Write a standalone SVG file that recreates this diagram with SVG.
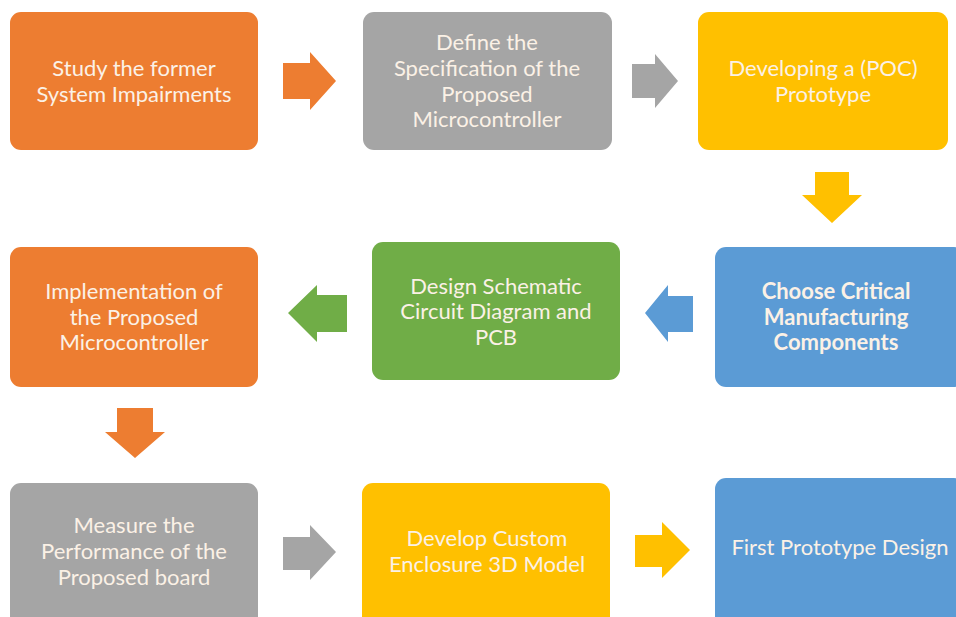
<svg xmlns="http://www.w3.org/2000/svg" width="956" height="617" viewBox="0 0 956 617">
<style>
.t{font-family:Lato,"Open Sans","Liberation Sans",sans-serif;font-size:22px;fill:#fbf1e6;text-anchor:middle}
.b{font-weight:bold}
.or{fill:#ED7D31}.gr{fill:#A5A5A5}.ye{fill:#FFC000}.bl{fill:#5B9BD5}.gn{fill:#70AD47}
</style>
<rect width="956" height="617" fill="#ffffff"/>
<g id="connectors">
<polygon class="or" points="283,63 310,63 310,52 336,81 310,110 310,99 283,99"/>
<polygon class="gr" points="632,64 655,64 655,54 678,81 655,108 655,98 632,98"/>
<polygon class="ye" points="815,172 849,172 849,195 862,195 832,223 802,195 815,195"/>
<polygon class="bl" points="693,296 668,296 668,285 645,313 668,342 668,332 693,332"/>
<polygon class="gn" points="347,295 317,295 317,285 288,313 317,342 317,332 347,332"/>
<polygon class="or" points="117,408 153,408 153,432 165,432 135,458 105,432 117,432"/>
<polygon class="gr" points="283,537 310,537 310,525 336,552 310,580 310,570 283,570"/>
<polygon class="ye" points="635,535 662,535 662,522 690,550 662,578 662,567 635,567"/>
</g>
<g id="n1"><rect class="or" x="10" y="12" width="248" height="138" rx="11"/>
<text class="t" x="134" y="76">Study the former</text><text class="t" x="134" y="102">System Impairments</text></g>
<g id="n2"><rect class="gr" x="363" y="12" width="249" height="138" rx="11"/>
<text class="t" x="487" y="50">Define the</text><text class="t" x="487" y="76">Specification of the</text><text class="t" x="487" y="102">Proposed</text><text class="t" x="487" y="127">Microcontroller</text></g>
<g id="n3"><rect class="ye" x="698" y="12" width="250" height="138" rx="11"/>
<text class="t" x="823" y="76">Developing a (POC)</text><text class="t" x="823" y="102">Prototype</text></g>
<g id="n4"><rect class="bl" x="715" y="247" width="250" height="140" rx="11"/>
<text class="t b" x="836" y="299">Choose Critical</text><text class="t b" x="836" y="325">Manufacturing</text><text class="t b" x="836" y="350">Components</text></g>
<g id="n5"><rect class="gn" x="372" y="242" width="248" height="138" rx="11"/>
<text class="t" x="496" y="294">Design Schematic</text><text class="t" x="496" y="319">Circuit Diagram and</text><text class="t" x="496" y="345">PCB</text></g>
<g id="n6"><rect class="or" x="10" y="247" width="248" height="140" rx="11"/>
<text class="t" x="134" y="299">Implementation of</text><text class="t" x="134" y="325">the Proposed</text><text class="t" x="134" y="350">Microcontroller</text></g>
<g id="n7"><rect class="gr" x="10" y="483" width="248" height="145" rx="11"/>
<text class="t" x="134" y="533">Measure the</text><text class="t" x="134" y="559">Performance of the</text><text class="t" x="134" y="585">Proposed board</text></g>
<g id="n8"><rect class="ye" x="362" y="483" width="248" height="145" rx="11"/>
<text class="t" x="487" y="546">Develop Custom</text><text class="t" x="487" y="572">Enclosure 3D Model</text></g>
<g id="n9"><rect class="bl" x="715" y="478" width="250" height="150" rx="11"/>
<text class="t" x="840" y="555">First Prototype Design</text></g>
</svg>
